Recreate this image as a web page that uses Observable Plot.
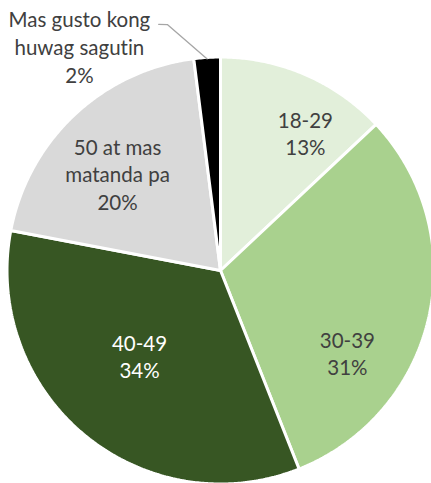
<!DOCTYPE html>
<html>
<head>
<meta charset="utf-8">
<script src="https://cdn.jsdelivr.net/npm/d3@7"></script>
<script src="https://cdn.jsdelivr.net/npm/@observablehq/plot@0.6"></script>
<style>
  html, body { margin: 0; padding: 0; background: #fff; }
  #chart { width: 431px; height: 483px; }
  #chart svg text { font-variant-ligatures: none; font-feature-settings: "liga" 0; }
</style>
</head>
<body>
<div id="chart"></div>
<script>
// ---- data ----
const categories = ["18-29", "30-39", "40-49", "50 at mas\nmatanda pa", "Mas gusto kong\nhuwag sagutin"];
const values = [13, 31, 34, 20, 2];
const colors = ["#E2EFDA", "#A9D18E", "#375623", "#D9D9D9", "#000000"];
const labelColors = ["#404040", "#404040", "#FFFFFF", "#404040", "#404040"];
// label placement: angle (deg clockwise from 12 o'clock) and radius (fraction of pie radius)
const labelAngle = [31.6, 122.9, 223.6, 313.3, 327.8];
const labelRadius = [0.764, 0.713, 0.554, 0.667, 1.249];
// leader line for the outside label: polar points (angle, radius)
const leaderPolar = [[345.9, 1.197], [347.8, 1.187], [null, 1.0]];

// ---- geometry ----
const total = d3.sum(values);
const rad = (deg) => deg * Math.PI / 180;
let acc = 0;
const slices = values.map((v, i) => {
  const a0 = acc / total * 360;
  acc += v;
  const a1 = acc / total * 360;
  return {i, a0, a1, mid: (a0 + a1) / 2};
});
const R = 1.007;
const slicePoints = slices.map(s => {
  const pts = [{x: 0, y: 0}];
  const n = Math.max(4, Math.ceil((s.a1 - s.a0) * 2));
  for (let k = 0; k <= n; k++) {
    const a = rad(s.a0 + (s.a1 - s.a0) * k / n);
    pts.push({x: R * Math.sin(a), y: R * Math.cos(a)});
  }
  pts.push({x: 0, y: 0});
  return pts;
});
const labels = categories.map((c, i) => ({
  text: c + "\n" + values[i] + "%",
  x: labelRadius[i] * Math.sin(rad(labelAngle[i])),
  y: labelRadius[i] * Math.cos(rad(labelAngle[i])),
  color: labelColors[i]
}));
const leader = leaderPolar.map(([a, r]) => {
  const ang = rad(a == null ? slices[4].mid : a);
  return {x: r * Math.sin(ang), y: r * Math.cos(ang)};
});

const PR = 212;
const plot = Plot.plot({
  width: 431,
  height: 483,
  margin: 0,
  x: {domain: [-220 / PR, 211 / PR], range: [0, 431], axis: null},
  y: {domain: [-213 / PR, 270 / PR], range: [483, 0], axis: null},
  style: {background: "#fff", fontFamily: "Lato, 'Open Sans', sans-serif"},
  marks: [
    ...slicePoints.map((pts, i) => Plot.line(pts, {
      x: "x", y: "y", fill: colors[i], stroke: "#fff", strokeWidth: 3, strokeLinejoin: "miter", curve: "linear"
    })),
    Plot.line(leader, {x: "x", y: "y", stroke: "#A6A6A6", strokeWidth: 1.3}),
    Plot.text(labels, {
      x: "x", y: "y", text: "text", fill: "color",
      fontSize: 20.5, lineHeight: 1.36, textAnchor: "middle", frameAnchor: "middle"
    })
  ]
});
document.getElementById("chart").appendChild(plot);
</script>
</body>
</html>
